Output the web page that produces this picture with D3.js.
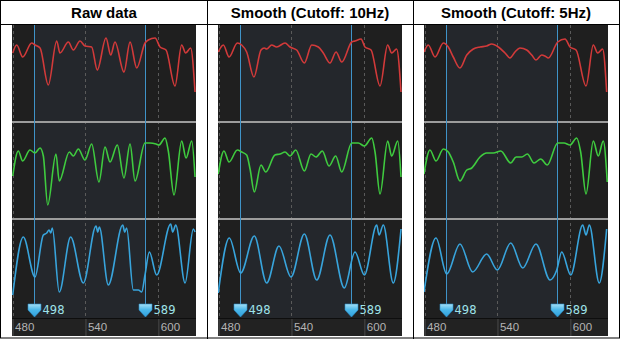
<!DOCTYPE html>
<html><head><meta charset="utf-8">
<script src="https://cdn.jsdelivr.net/npm/d3@7"></script>
<style>body{margin:0;background:#fff}svg{display:block}</style>
</head><body><svg id="c" width="620" height="339"></svg>
<script>
const titles = ["Raw data", "Smooth (Cutoff: 10Hz)", "Smooth (Cutoff: 5Hz)"];
const xTicks = [480, 540, 600];
const cursors = [498, 589];
const xDomain = [479.5, 631];

// [frame, value] pairs
const rawRed = [[480.1,68],[483.4,76],[488.3,64],[495.7,78],[498.4,76],[502.6,73],[509.4,36],[516.3,80],[519.0,68],[525.9,79],[530.0,71],[535.5,80],[539.6,75],[545.1,74],[549.7,51],[556.9,83],[560.8,66],[564.3,79],[571.7,49],[576.7,79],[582.2,53],[589.0,78],[591.7,81],[597.3,83],[601.4,74],[606.3,71],[613.7,35],[619.2,76],[622.5,68],[626.6,73],[630.2,29]];
const rawGreen = [[480.1,42],[484.7,67],[488.3,57],[494.3,68],[498.4,65],[502.6,70],[505.3,62],[508.9,13],[515.7,64],[518.4,37],[526.7,66],[530.0,62],[534.1,69],[539.6,58],[545.1,74],[551.1,36],[556.1,71],[560.2,56],[566.2,73],[571.7,40],[576.7,74],[580.8,37],[589.0,75],[593.1,75],[598.1,74],[600.5,73],[605.5,80],[608.2,67],[612.9,23],[619.2,77],[622.8,60],[627.5,77],[630.2,41]];
const rawBlue = [[480.1,23],[488.8,81],[498.4,41],[505.3,83],[508.1,85],[510.0,88],[511.4,85],[512.7,90],[518.4,26],[527.8,81],[538.2,35],[548.7,92],[550.1,86],[551.4,91],[558.8,33],[570.7,93],[572.3,86],[573.9,90],[579.4,28],[583.5,28],[586.3,26],[589.0,43],[592.6,66],[598.6,43],[610.2,94],[611.8,86],[614.3,93],[622.0,35],[628.8,89],[630.2,86]];

const s10Red = [[479.7,69],[483.9,76],[488.6,64],[495.4,78],[499.0,76],[503.1,69],[509.1,44],[514.9,71],[517.6,73],[519.6,72],[523.7,76],[527.8,74],[534.7,78],[538.8,74],[544.3,71],[550.6,58],[556.7,76],[562.1,74],[566.2,68],[571.7,58],[576.7,69],[581.4,59],[589.6,79],[592.3,80],[597.3,82],[600.5,74],[605.5,71],[612.9,35],[619.2,76],[622.5,68],[626.6,72],[630.2,29]];
const s10Green = [[479.7,44],[484.4,67],[488.6,56],[495.4,68],[499.0,66],[503.1,63],[505.9,49],[509.4,26],[514.9,53],[518.8,46],[526.4,63],[530.6,64],[534.7,66],[538.8,62],[543.5,68],[550.6,47],[556.1,64],[560.2,61],[565.4,67],[570.9,52],[576.4,62],[581.4,46],[589.6,75],[595.0,75],[600.0,72],[606.1,80],[608.8,66],[612.9,24],[619.2,77],[622.5,62],[627.5,77],[630.2,41]];
const s10Blue = [[479.7,25],[488.8,80],[498.2,45],[509.4,82],[519.6,35],[529.7,72],[539.6,41],[550.6,84],[560.8,38],[571.7,83],[583.5,30],[592.3,66],[600.0,43],[610.2,93],[612.1,83],[615.6,93],[623.8,35],[630.2,89]];

const s5Red = [[479.5,69],[483.0,76],[488.6,64],[495.4,78],[499.5,74],[503.6,64],[509.1,53],[514.7,66],[520.1,72],[525.6,74],[531.1,75],[535.2,77],[540.7,74],[546.2,68],[550.3,63],[554.4,69],[558.5,73],[564.1,71],[568.2,66],[571.7,61],[576.4,66],[579.1,65],[581.9,63],[589.6,79],[595.6,82],[599.7,74],[604.7,71],[612.9,35],[618.9,76],[622.5,68],[626.6,72],[629.9,29]];
const s5Green = [[479.5,44],[484.4,68],[489.4,57],[495.4,69],[499.5,66],[503.6,56],[509.1,37],[514.7,48],[518.8,50],[525.6,61],[531.1,65],[536.6,65],[542.7,67],[550.9,55],[555.3,61],[560.0,61],[564.6,64],[570.1,55],[575.6,59],[581.0,53],[589.6,75],[594.8,75],[599.7,73],[605.2,80],[608.5,66],[612.9,24],[618.9,77],[623.0,62],[627.1,77],[630.4,36]];
const s5Blue = [[479.5,26],[489.4,80],[498.2,44],[509.1,74],[519.6,46],[531.1,64],[539.9,48],[550.9,75],[560.8,50],[571.7,74],[583.3,38],[588.8,48],[592.9,66],[600.3,43],[610.2,93],[612.9,83],[615.6,93],[623.8,35],[629.9,89]];

const panelSeries = [[rawRed, rawGreen, rawBlue],[s10Red, s10Green, s10Blue],[s5Red, s5Green, s5Blue]];
const seriesColors = ["#d23a3a", "#3fcb3f", "#38a4dc"];

const svg = d3.select("#c");
const W = 620, H = 339;
svg.append("rect").attr("width", W).attr("height", H).attr("fill", "#fff");

const defs = svg.append("defs");
const grad = defs.append("linearGradient").attr("id","mk").attr("x1",0).attr("y1",0).attr("x2",0).attr("y2",1);
grad.append("stop").attr("offset","0%").attr("stop-color","#a6e0f6");
grad.append("stop").attr("offset","45%").attr("stop-color","#4bb8ea");
grad.append("stop").attr("offset","100%").attr("stop-color","#2f9fdc");

const rows = [{top:25, bottom:121}, {top:123, bottom:218}, {top:220, bottom:318}];
const panelW = 184, plotTop = 25, axisY = 318, plotBottom = 336;

titles.forEach((t, i) => {
  const ox = 12 + i * 206;
  const g = svg.append("g");
  const x = d3.scaleLinear().domain(xDomain).range([ox, ox + panelW]);

  // background
  g.append("rect").attr("x", ox).attr("y", plotTop).attr("width", panelW).attr("height", plotBottom - plotTop).attr("fill", "#1f1f1f");
  g.append("rect").attr("x", x(cursors[0])).attr("y", plotTop).attr("width", x(cursors[1]) - x(cursors[0])).attr("height", axisY - plotTop).attr("fill", "#24272c");

  // dashed grid
  g.selectAll(".grid").data(xTicks).join("line")
    .attr("x1", d => Math.round(x(d)) + 0.5).attr("x2", d => Math.round(x(d)) + 0.5)
    .attr("y1", plotTop).attr("y2", axisY)
    .attr("stroke", "#5a5a5a").attr("stroke-width", 1).attr("stroke-dasharray", "3,3");

  // row separators
  [121, 218].forEach(yy => {
    g.append("rect").attr("x", ox).attr("y", yy).attr("width", panelW).attr("height", 2).attr("fill", "#9c9c9c");
  });

  // clip
  const cid = "clip" + i;
  defs.append("clipPath").attr("id", cid).append("rect").attr("x", ox).attr("y", plotTop).attr("width", panelW).attr("height", axisY - plotTop);

  // cursor lines
  g.selectAll(".cur").data(cursors).join("line")
    .attr("x1", d => Math.round(x(d)) + 0.5).attr("x2", d => Math.round(x(d)) + 0.5)
    .attr("y1", plotTop).attr("y2", 305)
    .attr("stroke", "#3f93c8").attr("stroke-width", 1);

  // series lines
  panelSeries[i].forEach((data, k) => {
    const r = rows[k];
    const y = d3.scaleLinear().domain([0, 100]).range([r.bottom, r.bottom - 100]);
    const line = d3.line().x(d => x(d[0])).y(d => y(d[1])).curve(d3.curveMonotoneX);
    g.append("path").datum(data).attr("d", line)
      .attr("fill", "none").attr("stroke", seriesColors[k]).attr("stroke-width", 1.6)
      .attr("stroke-linejoin", "round").attr("clip-path", `url(#${cid})`);
  });

  // markers
  cursors.forEach(c => {
    const cx = Math.round(x(c)) + 0.5;
    g.append("path")
      .attr("d", `M${cx-6.5},304 L${cx+6.5},304 L${cx+6.5},310 L${cx},317 L${cx-6.5},310 Z`)
      .attr("fill", "url(#mk)").attr("stroke", "#2b8fc8").attr("stroke-width", 0.6);
    g.append("text").attr("x", cx + 8).attr("y", 313.5).text(c)
      .attr("fill", "#9fe3ea").attr("font-family", "DejaVu Sans").attr("font-size", 11.5);
  });

  // axis area
  g.append("rect").attr("x", ox).attr("y", axisY).attr("width", panelW).attr("height", plotBottom - axisY).attr("fill", "#222222");
  g.append("line").attr("x1", ox).attr("x2", ox + panelW).attr("y1", axisY + 0.5).attr("y2", axisY + 0.5).attr("stroke", "#0e0e0e");
  const ax = g.append("g").attr("transform", `translate(0,${axisY + 1})`)
    .call(d3.axisBottom(x).tickValues(xTicks).tickSize(plotBottom - axisY - 1).tickSizeOuter(0));
  ax.select(".domain").remove();
  ax.selectAll(".tick line").attr("stroke", "#4a4a4a");
  ax.selectAll(".tick text").attr("text-anchor", "start").attr("x", 2).attr("y", 4).attr("dy", "0.71em")
    .attr("fill", "#b4b4b4").attr("font-family", "Liberation Sans, Arial, sans-serif").attr("font-size", 11.5);

  // title
  svg.append("text").attr("x", ox + panelW / 2 - 0).attr("y", 17.5).attr("text-anchor", "middle")
    .attr("font-family", "Liberation Sans, Arial, sans-serif").attr("font-weight", "bold").attr("font-size", 15)
    .attr("fill", "#000").text(t);
});

// table borders
const bc = "#000";
svg.append("rect").attr("x", 0.5).attr("y", 0.5).attr("width", W - 1).attr("height", H - 1.5).attr("fill", "none").attr("stroke", bc);
svg.append("line").attr("x1", 0).attr("x2", W).attr("y1", 24.5).attr("y2", 24.5).attr("stroke", bc);
[207.5, 413.5].forEach(xx => svg.append("line").attr("x1", xx).attr("x2", xx).attr("y1", 0).attr("y2", H).attr("stroke", bc));
</script></body></html>
